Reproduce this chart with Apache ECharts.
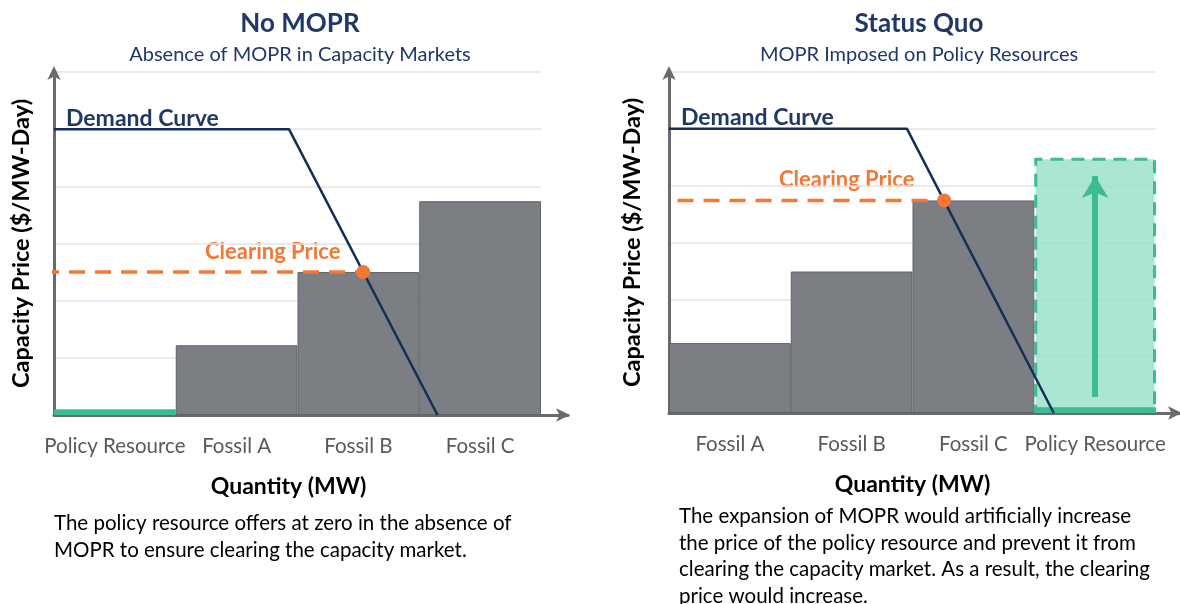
<!DOCTYPE html>
<html>
<head>
<meta charset="utf-8">
<script src="https://cdn.jsdelivr.net/npm/echarts@6/dist/echarts.min.js"></script>
<style>
html,body{margin:0;padding:0;background:#fff;}
#chart{width:1180px;height:604px;}
</style>
</head>
<body>
<div id="chart"></div>
<script>
// ---- data ----
const leftCategories = ['Policy Resource', 'Fossil A', 'Fossil B', 'Fossil C'];
const leftOffers = [0.1, 1.22, 2.5, 3.74];
const rightCategories = ['Fossil A', 'Fossil B', 'Fossil C', 'Policy Resource'];
const rightOffers = [1.23, 2.49, 3.74, 0.1];
const rightMoprOffer = [null, null, null, 4.49];
const leftDemand = [[0, 5], [1.93, 5], [3.15, 0]];
const rightDemand = [[0, 5], [1.955, 5], [3.16, 0]];
const leftClearing = { qty: 2.54, price: 2.5, start: -0.09 };
const rightClearing = { qty: 2.26, price: 3.74, start: 0.07 };
const rightArrow = [[3.5, 0.28], [3.5, 4.17]];
const yTicks = [0, 6, 1];

const FONT = 'Lato';
const NAVY = '#1f3864';
const LINE_NAVY = '#112f57';
const ORANGE = '#f47833';
const GREEN = '#3dbb91';
const LIGHT_GREEN = 'rgba(150,222,201,0.8)';
const GRAY_BAR = '#7b7f83';
const AXIS = '#676a6e';

function barData(cats, vals) {
  return vals.map((v, i) => ({
    value: v,
    itemStyle: cats[i] === 'Policy Resource'
      ? { color: GREEN, borderWidth: 0 }
      : { color: GRAY_BAR, borderColor: '#606367', borderWidth: 1 }
  }));
}

const chart = echarts.init(document.getElementById('chart'), null, { renderer: 'canvas' });

function catAxis(grid, cats, nameGap, pad) {
  return {
    type: 'category', gridIndex: grid, data: cats,
    axisLine: { show: false }, axisTick: { show: false },
    axisLabel: { color: '#595959', fontFamily: FONT, fontSize: 20.5, margin: 21, interval: 0 },
    name: 'Quantity (MW)', nameLocation: 'middle', nameGap: nameGap,
    nameTextStyle: { color: '#000', fontFamily: FONT, fontWeight: 'bold', fontSize: 23, padding: pad }
  };
}
function hiddenX(grid) {
  return { type: 'value', gridIndex: grid, min: 0, max: 4, show: false };
}
function arrowX(grid) {
  return {
    type: 'value', gridIndex: grid, min: 0, max: 1,
    axisLine: { show: true, symbol: ['none', 'arrow'], symbolSize: [10, 14], symbolOffset: [0, 2],
      lineStyle: { color: AXIS, width: 3 } },
    axisTick: { show: false }, axisLabel: { show: false }, splitLine: { show: false }
  };
}
function mainY(grid, nameGap) {
  return {
    type: 'value', gridIndex: grid, min: yTicks[0], max: yTicks[1], interval: yTicks[2],
    axisLine: { show: true, symbol: ['none', 'arrow'], symbolSize: [10, 14], symbolOffset: [0, 6],
      lineStyle: { color: AXIS, width: 3 } },
    axisTick: { show: false }, axisLabel: { show: false },
    splitLine: { show: true, lineStyle: { color: '#e3e3e3', width: 1.5 } },
    name: 'Capacity Price ($/MW-Day)', nameLocation: 'middle', nameGap: nameGap,
    nameTextStyle: { color: '#000', fontFamily: FONT, fontWeight: 'bold', fontSize: 23.5 }
  };
}
function hiddenY(grid) {
  return { type: 'value', gridIndex: grid, min: yTicks[0], max: yTicks[1], show: false };
}

const option = {
  animation: false,
  backgroundColor: '#fff',
  title: [
    { text: 'No MOPR', subtext: 'Absence of MOPR in Capacity Markets', left: 295, top: 6, textAlign: 'center', itemGap: 8,
      textStyle: { color: NAVY, fontFamily: FONT, fontWeight: 'bold', fontSize: 26 },
      subtextStyle: { color: NAVY, fontFamily: FONT, fontSize: 20 } },
    { text: 'Status Quo', subtext: 'MOPR Imposed on Policy Resources', left: 914, top: 6, textAlign: 'center', itemGap: 8,
      textStyle: { color: NAVY, fontFamily: FONT, fontWeight: 'bold', fontSize: 26 },
      subtextStyle: { color: NAVY, fontFamily: FONT, fontSize: 20 } }
  ],
  grid: [
    { left: 54, top: 72, width: 487, height: 343 },
    { left: 54, top: 72, width: 514, height: 343 },
    { left: 669, top: 72, width: 487, height: 341 },
    { left: 669, top: 72, right: -60, height: 341 }
  ],
  xAxis: [
    catAxis(0, leftCategories, 60, [0, 18, 0, 0]), hiddenX(0), arrowX(1),
    catAxis(2, rightCategories, 60, 0), hiddenX(2), arrowX(3)
  ],
  yAxis: [
    mainY(0, 21), hiddenY(1), mainY(2, 25), hiddenY(3)
  ],
  series: [
    { type: 'bar', xAxisIndex: 0, yAxisIndex: 0, barCategoryGap: '0%', data: barData(leftCategories, leftOffers), z: 2 },
    { type: 'line', xAxisIndex: 1, yAxisIndex: 0, data: leftDemand, symbol: 'none', z: 4,
      lineStyle: { color: LINE_NAVY, width: 2.5 } },
    { type: 'line', xAxisIndex: 1, yAxisIndex: 0, clip: false, symbol: 'none', z: 3,
      data: [[leftClearing.start, leftClearing.price], [leftClearing.qty, leftClearing.price]],
      lineStyle: { color: ORANGE, width: 3.5, type: [16, 10] } },
    { type: 'scatter', xAxisIndex: 1, yAxisIndex: 0, symbolSize: 14, z: 5,
      itemStyle: { color: ORANGE, opacity: 1 }, data: [[leftClearing.qty, leftClearing.price]] },

    { type: 'bar', xAxisIndex: 3, yAxisIndex: 2, barCategoryGap: '0%', z: 2,
      data: rightMoprOffer.map(v => v),
      itemStyle: { color: LIGHT_GREEN, borderColor: GREEN, borderWidth: 3, borderType: [13, 8] } },
    { type: 'bar', xAxisIndex: 3, yAxisIndex: 2, barCategoryGap: '0%', barGap: '-100%', z: 2,
      data: barData(rightCategories, rightOffers) },
    { type: 'line', xAxisIndex: 4, yAxisIndex: 2, data: rightDemand, symbol: 'none', z: 4,
      lineStyle: { color: LINE_NAVY, width: 2.5 },
      markLine: { silent: true, symbol: ['none', 'arrow'], symbolSize: [20, 22], label: { show: false },
        lineStyle: { color: GREEN, width: 6, type: 'solid' },
        data: [[{ coord: rightArrow[0] }, { coord: rightArrow[1] }]] } },
    { type: 'line', xAxisIndex: 4, yAxisIndex: 2, clip: false, symbol: 'none', z: 3,
      data: [[rightClearing.start, rightClearing.price], [rightClearing.qty, rightClearing.price]],
      lineStyle: { color: ORANGE, width: 3.5, type: [16, 10] } },
    { type: 'scatter', xAxisIndex: 4, yAxisIndex: 2, symbolSize: 14, z: 5,
      itemStyle: { color: ORANGE, opacity: 1 }, data: [[rightClearing.qty, rightClearing.price]] }
  ],
  graphic: [
    { type: 'text', left: 66, top: 107, style: { text: 'Demand Curve', fill: NAVY, font: 'bold 23px ' + FONT } },
    { type: 'text', left: 681, top: 106, style: { text: 'Demand Curve', fill: NAVY, font: 'bold 23px ' + FONT } },
    { type: 'text', left: 205, top: 241, style: { text: 'Clearing Price', fill: ORANGE, font: 'bold 22px ' + FONT } },
    { type: 'text', left: 779, top: 169, style: { text: 'Clearing Price', fill: ORANGE, font: 'bold 22px ' + FONT } },
    { type: 'text', left: 54, top: 510, style: { text: 'The policy resource offers at zero in the absence of\nMOPR to ensure clearing the capacity market.',
      fill: '#000', font: '20.5px ' + FONT, lineHeight: 27 } },
    { type: 'text', left: 679, top: 503, style: { text: 'The expansion of MOPR would artificially increase\nthe price of the policy resource and prevent it from\nclearing the capacity market. As a result, the clearing\nprice would increase.',
      fill: '#000', font: '20.5px ' + FONT, lineHeight: 26.7 } }
  ]
};
chart.setOption(option);
</script>
</body>
</html>
